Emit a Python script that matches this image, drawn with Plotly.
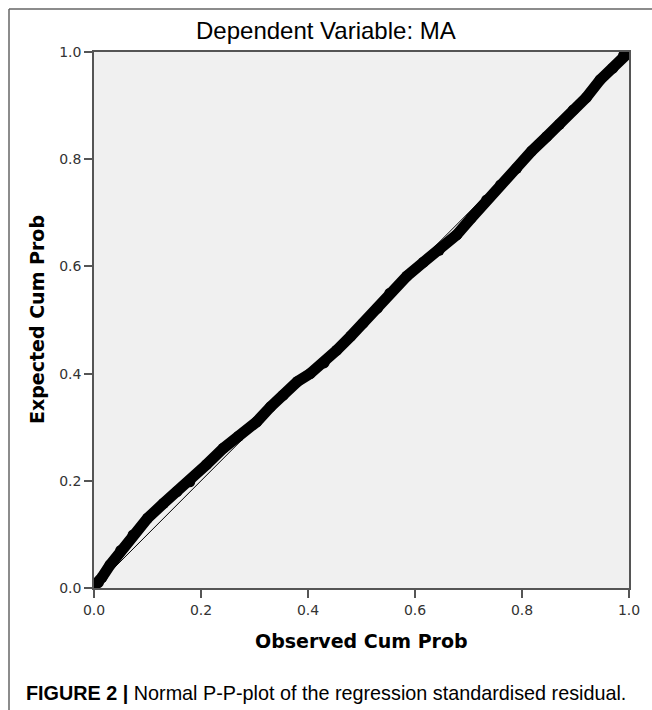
import plotly.graph_objects as go

# Observed vs expected cumulative probabilities
observed_cum_prob = [0.000, 0.008, 0.015, 0.030, 0.050, 0.073, 0.100, 0.130, 0.155, 0.179,
                     0.210, 0.242, 0.270, 0.304, 0.330, 0.354, 0.380, 0.404, 0.430, 0.454,
                     0.480, 0.503, 0.530, 0.553, 0.585, 0.616, 0.645, 0.678, 0.705, 0.734,
                     0.760, 0.790, 0.818, 0.846, 0.870, 0.896, 0.920, 0.946, 0.970, 0.990, 1.000]
expected_cum_prob = [0.003, 0.010, 0.020, 0.043, 0.070, 0.099, 0.130, 0.158, 0.180, 0.198,
                     0.230, 0.261, 0.283, 0.310, 0.338, 0.360, 0.385, 0.400, 0.420, 0.444,
                     0.470, 0.494, 0.522, 0.550, 0.582, 0.608, 0.630, 0.659, 0.690, 0.724,
                     0.752, 0.783, 0.815, 0.842, 0.865, 0.892, 0.915, 0.948, 0.970, 0.994, 1.000]
reference_line = [0.0, 1.0]
tick_values = [0.0, 0.2, 0.4, 0.6, 0.8, 1.0]
tick_labels = ["0.0", "0.2", "0.4", "0.6", "0.8", "1.0"]

W, H = 652, 710
L, R, T, B = 94, 629, 52, 588

def px_to_paper_x(px):
    return (px - L) / (R - L)

def px_to_paper_y(py):
    return (B - py) / (B - T)

fig = go.Figure()
fig.add_trace(go.Scatter(x=reference_line, y=reference_line, mode="lines",
                         line=dict(color="black", width=1), showlegend=False,
                         hoverinfo="skip"))
fig.add_trace(go.Scatter(x=observed_cum_prob, y=expected_cum_prob, mode="lines+markers",
                         line=dict(color="black", width=11),
                         marker=dict(color="black", size=11),
                         showlegend=False))

font = "Liberation Sans, Arial, sans-serif"
wide = "DejaVu Sans, Verdana, sans-serif"
axis_common = dict(range=[0, 1], tickvals=tick_values, ticktext=tick_labels,
                   showgrid=False, zeroline=False, showline=True, mirror=True,
                   linecolor="#555555", linewidth=1.5, ticks="outside", ticklen=8,
                   tickcolor="#555555", tickwidth=1.5,
                   tickfont=dict(family=wide, size=14, color="#333333"))

fig.update_layout(
    width=W, height=H,
    margin=dict(l=L, r=W - R, t=T, b=H - B),
    paper_bgcolor="white", plot_bgcolor="#F0F0F0",
    xaxis=axis_common, yaxis=axis_common,
    font=dict(family=font),
)

# Outer frame (top and left lines)
fig.add_shape(type="line", xref="paper", yref="paper",
              x0=px_to_paper_x(9), y0=px_to_paper_y(9), x1=px_to_paper_x(W + 5), y1=px_to_paper_y(9),
              line=dict(color="#666666", width=1.5))
fig.add_shape(type="line", xref="paper", yref="paper",
              x0=px_to_paper_x(9), y0=px_to_paper_y(9), x1=px_to_paper_x(9), y1=px_to_paper_y(H + 5),
              line=dict(color="#666666", width=1.5))

fig.add_annotation(text="Dependent Variable: MA", xref="paper", yref="paper",
                   x=px_to_paper_x(326), y=px_to_paper_y(31), xanchor="center", yanchor="middle",
                   showarrow=False,
                   font=dict(family=font, size=24, color="black"))
fig.add_annotation(text="<b>Observed Cum Prob</b>", xref="paper", yref="paper",
                   x=0.5, y=px_to_paper_y(641), xanchor="center", yanchor="middle",
                   showarrow=False,
                   font=dict(family=wide, size=19, color="black"))
fig.add_annotation(text="<b>Expected Cum Prob</b>", xref="paper", yref="paper",
                   x=px_to_paper_x(37), y=0.5, xanchor="center", yanchor="middle",
                   showarrow=False, textangle=-90,
                   font=dict(family=wide, size=19, color="black"))
fig.add_annotation(text="<b>FIGURE 2 |</b> Normal P-P-plot of the regression standardised residual.",
                   xref="paper", yref="paper", x=px_to_paper_x(24), y=px_to_paper_y(693),
                   xanchor="left", yanchor="middle", showarrow=False,
                   font=dict(family=font, size=19.8, color="black"))

fig.write_html("out.html", config={"displayModeBar": False},
               post_script="document.body.style.margin='0';document.body.style.padding='0';")
